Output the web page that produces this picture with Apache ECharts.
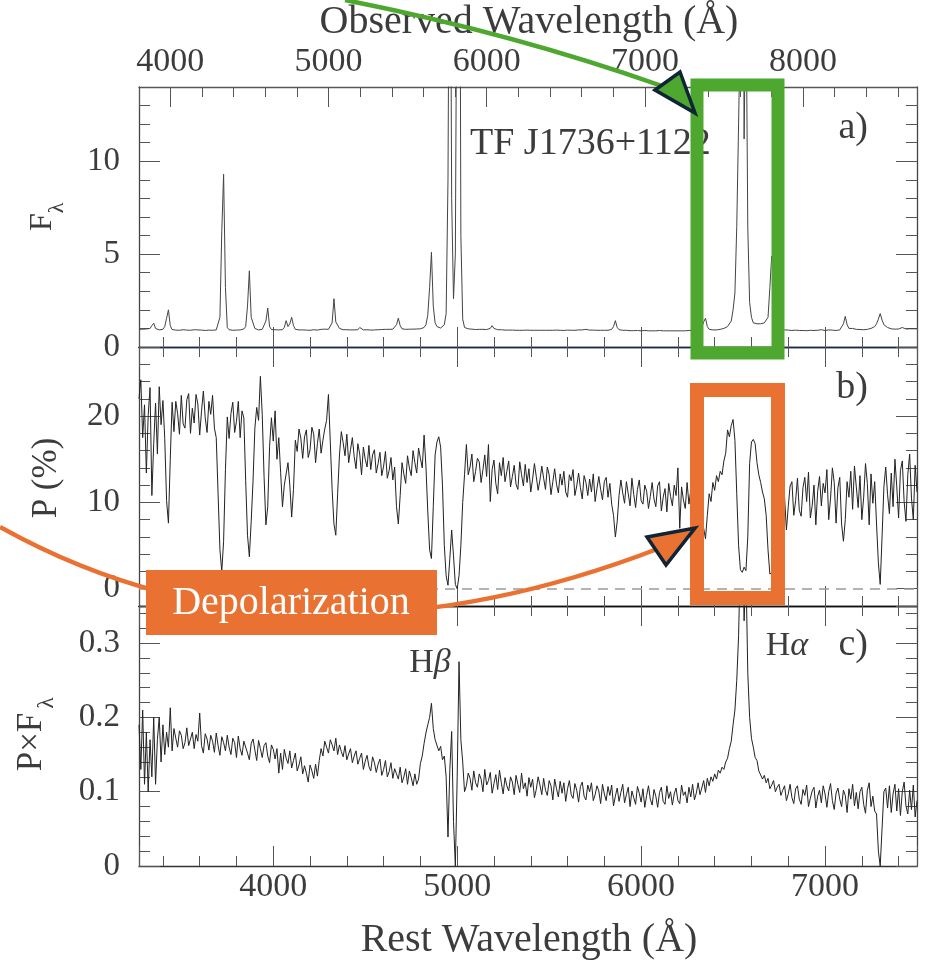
<!DOCTYPE html>
<html>
<head>
<meta charset="utf-8">
<script src="https://cdn.jsdelivr.net/npm/echarts@6/dist/echarts.min.js"></script>
<style>
  html, body { margin: 0; padding: 0; background: #ffffff; }
  #chart { width: 929px; height: 960px; }
</style>
</head>
<body>
<div id="chart"></div>
<script>
// Rest-frame wavelength grid (Angstrom): first sample and spacing
const WAVE_START = 3270;
const WAVE_STEP = 10;
const REST_MIN = 3270;
const REST_MAX = 7500;
const REDSHIFT = 0.1627;

// a) total flux density F_lambda, one value per grid sample (rows of 100 A)
const fluxValues = [
  0.95, 0.93, 0.96, 0.94, 0.97, 0.96, 1.0, 1.15, 1.28, 1.0,
  0.94, 0.92, 0.93, 0.95, 1.1, 1.55, 2.0, 1.15, 0.94, 0.92,
  0.91, 0.92, 0.9, 0.91, 0.93, 0.9, 0.91, 0.92, 0.9, 0.91,
  0.93, 0.95, 0.92, 0.9, 0.91, 0.9, 0.89, 0.9, 0.91, 0.9,
  0.9, 0.91, 0.92, 0.95, 1.6, 6.2, 9.3, 3.2, 1.05, 0.93,
  0.91, 0.9, 0.92, 0.91, 0.93, 0.92, 0.94, 0.97, 1.1, 2.2,
  4.1, 1.6, 1.5, 1.0, 0.93, 0.92, 0.93, 0.95, 1.05, 1.4,
  2.1, 1.1, 0.94, 0.92, 0.93, 0.91, 0.92, 0.95, 0.93, 1.05,
  1.42, 1.1, 1.25, 1.6, 1.15, 0.95, 0.93, 0.92, 0.93, 0.92,
  0.93, 0.91, 0.92, 0.9, 0.91, 0.93, 0.92, 0.91, 0.93, 0.95,
  0.94, 0.96, 0.93, 0.95, 0.98, 1.3, 2.6, 1.35, 1.3, 1.0,
  0.95, 0.93, 0.92, 0.93, 0.91, 0.92, 0.93, 0.92, 0.94, 0.93,
  1.05, 0.95, 0.92, 0.91, 0.93, 0.92, 0.91, 0.93, 0.92, 0.94,
  0.93, 0.92, 0.94, 0.93, 0.95, 0.96, 0.95, 0.97, 0.96, 0.98,
  1.2, 1.55, 1.15, 0.98, 0.96, 0.95, 0.97, 0.96, 0.95, 0.96,
  0.95, 0.97, 0.96, 0.98, 1.0, 1.05, 1.2, 1.7, 3.2, 5.1,
  2.2, 1.3, 1.1, 1.0, 1.02, 1.05, 1.2, 1.8, 9.0, 30,
  8.0, 2.6, 5.0, 25, 40, 6.0, 1.5, 1.05, 1.0, 0.98,
  0.97, 0.96, 0.95, 0.94, 0.96, 0.95, 0.94, 0.95, 0.93, 0.94,
  0.95, 1.0, 1.15, 1.0, 0.94, 0.93, 0.92, 0.93, 0.92, 0.91,
  0.92, 0.91, 0.9, 0.91, 0.92, 0.9, 0.91, 0.9, 0.89, 0.9,
  0.9, 0.91, 0.89, 0.9, 0.91, 0.9, 0.89, 0.9, 0.91, 0.9,
  0.89, 0.9, 0.91, 0.9, 0.89, 0.9, 0.9, 0.91, 0.89, 0.9,
  0.9, 0.89, 0.9, 0.91, 0.9, 0.9, 0.89, 0.9, 0.91, 0.92,
  0.91, 0.92, 0.93, 0.95, 0.93, 0.91, 0.9, 0.91, 0.9, 0.9,
  0.91, 0.9, 0.89, 0.9, 0.91, 0.9, 0.91, 0.95, 1.1, 1.42,
  1.05, 0.93, 0.91, 0.9, 0.89, 0.9, 0.89, 0.88, 0.89, 0.88,
  0.88, 0.89, 0.88, 0.87, 0.88, 0.89, 0.88, 0.87, 0.88, 0.87,
  0.88, 0.87, 0.88, 0.89, 0.88, 0.87, 0.88, 0.87, 0.86, 0.87,
  0.88, 0.87, 0.86, 0.87, 0.88, 0.87, 0.86, 0.87, 0.88, 0.89,
  0.88, 0.89, 0.95, 1.3, 1.0, 0.93, 1.05, 1.35, 1.55, 1.1,
  0.95, 0.93, 0.92, 0.93, 0.92, 0.93, 0.95, 0.97, 1.0, 1.05,
  1.1, 1.2, 1.4, 2.0, 2.9, 6.5, 12, 18, 35, 11.2,
  20, 6.4, 2.4, 1.6, 1.3, 1.2, 1.25, 1.2, 1.25, 1.3,
  1.3, 1.35, 1.6, 3.2, 4.9, 4.6, 4.8, 2.5, 1.1, 0.95,
  0.93, 0.92, 0.9, 0.91, 0.9, 0.89, 0.9, 0.91, 0.9, 0.89,
  0.9, 0.89, 0.9, 0.88, 0.89, 0.9, 0.88, 0.89, 0.88, 0.9,
  0.89, 0.93, 0.88, 0.89, 0.9, 0.92, 1.0, 0.91, 0.9, 0.89,
  0.9, 0.92, 0.98, 1.25, 1.65, 1.2, 1.0, 0.97, 1.0, 0.96,
  0.95, 0.93, 0.94, 0.92, 0.93, 0.94, 0.95, 0.97, 1.0, 1.05,
  1.1, 1.25, 1.5, 1.8, 1.45, 1.2, 1.1, 1.05, 1.0, 0.98,
  0.97, 0.96, 0.98, 0.97, 1.0, 1.05, 0.98, 0.97, 0.96, 0.98,
  0.97, 0.98, 0.97, 0.98
];

// b) polarization P (%)
const polValues = [
  22.0, 24.2, 17.5, 21.3, 13.4, 20.1, 23.3, 10.8, 16.8, 21.5,
  15.6, 23.4, 19.0, 21.8, 17.4, 10.2, 7.6, 15.0, 21.6, 18.2,
  21.7, 20.3, 17.9, 22.4, 19.1, 18.6, 21.9, 22.6, 18.0, 20.9,
  19.2, 22.5, 21.4, 17.8, 20.6, 22.9, 19.8, 18.1, 21.7, 20.2,
  22.4, 18.6, 17.5, 11.0, 4.5, 2.0, 5.5, 13.8, 19.9, 17.4,
  20.3, 21.6, 18.1, 19.4, 21.7, 17.5, 20.6, 19.8, 12.5, 6.2,
  3.7, 7.8, 12.5, 18.6, 21.0, 19.5, 24.6, 20.2, 13.0, 7.4,
  9.5, 16.5, 19.8, 17.1, 20.6, 15.0, 17.5, 13.5, 9.5, 12.0,
  11.8, 14.6, 12.0, 8.3, 11.5, 17.2, 15.9, 18.5, 17.4, 15.1,
  17.6, 18.4, 15.2, 16.1, 18.7, 17.9, 14.6, 16.8, 18.5, 15.7,
  17.2, 18.5, 19.5, 22.5, 17.0, 11.5, 7.5, 6.2, 11.0, 15.5,
  18.2, 16.9, 15.4, 17.9, 14.6, 16.1, 17.5, 15.3, 13.9, 16.8,
  15.6, 13.2, 16.4, 15.0, 14.1, 16.6, 13.8, 15.5, 16.1, 13.4,
  14.5, 15.8, 13.1, 14.2, 15.9, 12.8, 13.7, 15.2, 12.6, 14.1,
  9.5, 7.5, 10.8, 14.6, 13.3, 12.2, 15.4, 14.0, 13.1, 16.0,
  14.6, 13.4, 16.3, 15.1, 14.0, 17.8, 14.2, 9.0, 4.5, 3.5,
  9.5, 15.5, 17.0, 17.6, 16.4, 12.0, 5.0, 1.5, 0.4, 3.5,
  6.8, 3.8, 0.5, 0.0, 1.5, 5.0, 10.0, 13.2, 16.7, 13.2,
  14.1, 15.6, 12.4, 13.6, 15.1, 14.7, 12.3, 13.8, 15.5, 13.0,
  16.7, 10.1, 13.8, 14.9, 12.2, 11.0, 14.6, 13.1, 15.2, 12.4,
  13.6, 14.8, 11.8, 13.0, 14.3, 12.1, 11.5, 14.7, 13.2, 11.9,
  14.4, 12.3, 13.9, 11.2, 12.7, 14.5, 13.0, 11.4, 12.6, 14.2,
  12.8, 11.5, 14.1, 13.2, 10.9, 12.4, 13.9, 12.1, 11.1, 13.3,
  12.0, 13.6, 11.2, 10.6, 13.2, 12.5, 13.8, 10.8, 11.9, 13.4,
  11.7, 10.4, 13.1, 12.3, 10.8, 12.7, 11.2, 13.3, 10.1, 11.6,
  13.0, 11.5, 10.3, 12.4, 12.9, 10.6, 12.2, 9.8, 8.5, 6.0,
  7.8, 10.8, 12.6, 11.1, 9.9, 12.4, 11.0, 9.6, 12.8, 10.9,
  9.4, 11.5, 12.6, 10.2, 9.8, 12.0, 11.3, 9.3, 10.7, 12.3,
  10.4, 9.5, 11.9, 12.4, 9.0, 10.6, 11.6, 8.9, 12.2, 10.7,
  9.6, 12.0, 10.8, 14.0, 7.0, 11.8, 10.3, 9.3, 12.3, 9.8,
  11.4, 9.1, 12.0, 10.5, 8.8, 10.2, 8.5, 7.0, 5.8, 8.5,
  11.0, 10.1, 12.3, 11.4, 13.1, 12.4, 13.6, 13.2, 14.8, 15.7,
  18.4, 17.6, 18.9, 19.6, 17.2, 11.0, 5.0, 2.2, 1.9, 2.5,
  2.1, 6.0, 14.5, 17.0, 17.3, 16.8, 14.6, 13.2, 12.3, 11.2,
  10.4, 8.5, 4.5, 1.7, 1.5, 2.0, 2.6, 5.0, 8.5, 10.2,
  12.3, 10.6, 6.8, 9.5, 11.9, 12.4, 8.5, 10.2, 12.8, 9.1,
  8.4, 11.7, 12.9, 10.1, 13.5, 8.2, 9.6, 12.0, 7.4, 11.3,
  13.0, 9.6, 12.2, 11.1, 13.8, 8.0, 10.5, 14.0, 12.3, 7.6,
  11.7, 12.9, 7.5, 5.5, 8.0, 12.4, 10.6, 13.6, 9.2, 14.2,
  11.8, 9.4, 13.1, 8.0, 10.6, 14.5, 12.2, 7.4, 13.3, 9.9,
  12.4, 7.5, 3.0, 0.5, 6.0, 11.8, 14.1, 10.9, 8.7, 13.4,
  9.5, 15.0, 11.8, 8.2, 13.7, 14.8, 10.1, 7.8, 13.2, 15.6,
  10.5, 8.0, 14.3, 11.2
];

// c) polarized flux P x F_lambda
const polFluxValues = [
  0.19, 0.13, 0.21, 0.11, 0.18, 0.1, 0.17, 0.12, 0.2, 0.11,
  0.17, 0.2, 0.14, 0.19, 0.15, 0.18, 0.16, 0.213, 0.155, 0.185,
  0.172, 0.16, 0.182, 0.176, 0.158, 0.166, 0.186, 0.162, 0.171, 0.18,
  0.158, 0.177, 0.168, 0.206, 0.162, 0.152, 0.178, 0.171, 0.156, 0.176,
  0.168, 0.153, 0.179, 0.162, 0.149, 0.174, 0.166, 0.155, 0.176, 0.16,
  0.15, 0.172, 0.166, 0.146, 0.175, 0.158, 0.149, 0.168, 0.17, 0.152,
  0.143, 0.165, 0.171, 0.156, 0.142, 0.169, 0.158, 0.146, 0.162, 0.166,
  0.148, 0.139, 0.163, 0.157, 0.144, 0.158, 0.125, 0.152, 0.13, 0.157,
  0.145, 0.138, 0.155, 0.132, 0.142, 0.152, 0.128, 0.136, 0.147, 0.124,
  0.135, 0.125, 0.113, 0.136, 0.128, 0.118, 0.137, 0.121, 0.142, 0.158,
  0.148, 0.168, 0.16, 0.152, 0.17, 0.163, 0.155, 0.172, 0.15, 0.163,
  0.154, 0.147, 0.162, 0.143, 0.151, 0.158, 0.139, 0.148, 0.155, 0.137,
  0.145, 0.152, 0.13, 0.141, 0.149, 0.134, 0.128, 0.147, 0.139, 0.126,
  0.137, 0.144, 0.122, 0.13, 0.142, 0.12, 0.127, 0.139, 0.118, 0.131,
  0.124, 0.117, 0.133, 0.112, 0.12, 0.131, 0.11, 0.128, 0.119, 0.108,
  0.124, 0.11, 0.117, 0.138, 0.148, 0.165, 0.179, 0.19, 0.2, 0.219,
  0.185, 0.17, 0.172, 0.155, 0.161, 0.143, 0.148, 0.12, 0.039, 0.13,
  0.181, 0.06, 0.0, 0.12, 0.275, 0.17, 0.14, 0.1, 0.108, 0.125,
  0.118, 0.102, 0.128, 0.112, 0.106, 0.124, 0.117, 0.1, 0.13, 0.109,
  0.115, 0.126, 0.098, 0.111, 0.123, 0.103, 0.129, 0.112, 0.097, 0.119,
  0.108, 0.101, 0.12, 0.113, 0.096, 0.122, 0.11, 0.099, 0.125, 0.104,
  0.112, 0.094, 0.119, 0.106, 0.117, 0.092, 0.103, 0.12, 0.109, 0.096,
  0.118, 0.102, 0.095, 0.115, 0.108, 0.089, 0.117, 0.104, 0.093, 0.114,
  0.098, 0.112, 0.087, 0.104, 0.115, 0.096, 0.091, 0.111, 0.102, 0.086,
  0.107, 0.113, 0.094, 0.089, 0.109, 0.1, 0.112, 0.088, 0.096, 0.108,
  0.101, 0.084, 0.11, 0.097, 0.088, 0.107, 0.095, 0.109, 0.081, 0.094,
  0.105, 0.087, 0.099, 0.11, 0.085, 0.096, 0.106, 0.08, 0.101, 0.092,
  0.083, 0.107, 0.098, 0.086, 0.104, 0.079, 0.095, 0.108, 0.09, 0.082,
  0.103, 0.094, 0.079, 0.099, 0.106, 0.087, 0.083, 0.108, 0.091, 0.1,
  0.082, 0.097, 0.105, 0.088, 0.084, 0.109, 0.095, 0.1, 0.085, 0.106,
  0.093, 0.11, 0.089, 0.098, 0.112, 0.096, 0.105, 0.115, 0.099, 0.118,
  0.108, 0.12, 0.114, 0.124, 0.117, 0.129, 0.125, 0.133, 0.13, 0.14,
  0.145, 0.158, 0.168, 0.19, 0.21, 0.25, 0.31, 0.42, 0.45, 0.33,
  0.4, 0.26, 0.2, 0.172, 0.16, 0.146, 0.142, 0.128, 0.13, 0.117,
  0.122, 0.112, 0.118, 0.104, 0.109, 0.115, 0.1, 0.106, 0.11, 0.095,
  0.102, 0.108, 0.088, 0.097, 0.11, 0.092, 0.084, 0.104, 0.108, 0.09,
  0.083, 0.103, 0.095, 0.109, 0.08, 0.091, 0.101, 0.106, 0.078, 0.094,
  0.102, 0.085, 0.108, 0.097, 0.079, 0.1, 0.111, 0.088, 0.076, 0.098,
  0.105, 0.09, 0.08, 0.102, 0.095, 0.072, 0.104, 0.09, 0.11, 0.081,
  0.099, 0.077, 0.1, 0.106, 0.083, 0.071, 0.102, 0.112, 0.08, 0.094,
  0.074, 0.07, 0.02, 0.0, 0.05, 0.1, 0.105, 0.078, 0.108, 0.072,
  0.097, 0.11, 0.074, 0.104, 0.068, 0.1, 0.113, 0.081, 0.07, 0.102,
  0.076, 0.109, 0.066, 0.088
];

// Axis ranges of the three panels
const fluxRange = [0, 14];
const polRange = [-2, 28];
const polFluxRange = [0, 0.35];

const FONT = '"Liberation Serif", "Times New Roman", serif';
const TEXT = '#3c3c3c';
const TICK = '#555555';
const ORANGE = '#e97132';
const GREEN = '#4ea72e';
const NAVY = '#0f2435';

function pairs(values) {
  return values.map((v, i) => [WAVE_START + i * WAVE_STEP, v]);
}

function everyThousand(v) { return v % 1000 === 0 ? String(v) : ''; }

function xAxisFor(grid, position, showLabels, lineColor, range) {
  return {
    type: 'value', gridIndex: grid, position: position,
    min: range[0], max: range[1], splitNumber: 5,
    axisLine: { show: true, onZero: false, lineStyle: { color: lineColor, width: 1.4 } },
    axisTick: { show: true, inside: true, length: 20, lineStyle: { color: TICK, width: 1 } },
    minorTick: { show: true, splitNumber: 5, length: 10, lineStyle: { color: TICK, width: 1 } },
    splitLine: { show: false }, minorSplitLine: { show: false },
    axisLabel: {
      show: showLabels, color: TEXT, fontFamily: FONT, fontSize: 34,
      margin: position === 'top' ? 8 : 4, formatter: everyThousand
    }
  };
}

function yAxisFor(grid, position, showLabels, range, opts) {
  return Object.assign({
    type: 'value', gridIndex: grid, position: position,
    min: range[0], max: range[1],
    axisLine: { show: true, onZero: false, lineStyle: { color: '#444', width: 1.3 } },
    axisTick: { show: true, inside: true, length: 21, lineStyle: { color: TICK, width: 1 } },
    minorTick: { show: true, splitNumber: 5, length: 11, lineStyle: { color: TICK, width: 1 } },
    splitLine: { show: false }, minorSplitLine: { show: false },
    axisLabel: { show: showLabels, color: TEXT, fontFamily: FONT, fontSize: 33, margin: 19 }
  }, opts);
}

const restRange = [REST_MIN, REST_MAX];
const obsRange = [REST_MIN * (1 + REDSHIFT), REST_MAX * (1 + REDSHIFT)];

const fluxLabels = { formatter: v => (v % 5 === 0 ? String(v) : '') };
const polLabels = { formatter: v => (v % 10 === 0 ? String(v) : '') };
const polFluxLabels = {
  formatter: v => {
    const r = Math.round(v * 10);
    if (Math.abs(v * 10 - r) > 1e-6) return '';
    return r === 0 ? '0' : (r / 10).toFixed(1);
  }
};

function withLabels(axis, extra) {
  axis.axisLabel = Object.assign(axis.axisLabel, extra);
  return axis;
}

const chart = echarts.init(document.getElementById('chart'), null, { renderer: 'canvas' });

const textStyle = (size, extra) => Object.assign({
  font: size + 'px ' + FONT, fill: TEXT
}, extra);

const centered = { align: 'center', textAlign: 'center', verticalAlign: 'middle', textVerticalAlign: 'middle' };

const option = {
  animation: false,
  backgroundColor: '#ffffff',
  grid: [
    { left: 139, right: 12, top: 87, height: 260 },
    { left: 139, right: 12, top: 347, height: 259 },
    { left: 139, right: 12, top: 606, height: 260 }
  ],
  xAxis: [
    xAxisFor(0, 'bottom', false, '#1d2d40', restRange),
    xAxisFor(0, 'top', true, '#555', obsRange),
    xAxisFor(1, 'bottom', false, '#111', restRange),
    xAxisFor(1, 'top', false, '#1d2d40', restRange),
    xAxisFor(2, 'bottom', true, '#333', restRange),
    xAxisFor(2, 'top', false, '#111', restRange)
  ],
  yAxis: [
    withLabels(yAxisFor(0, 'left', true, fluxRange, { interval: 5 }), fluxLabels),
    yAxisFor(0, 'right', false, fluxRange, { interval: 5 }),
    withLabels(yAxisFor(1, 'left', true, polRange, { splitNumber: 3 }), polLabels),
    yAxisFor(1, 'right', false, polRange, { splitNumber: 3 }),
    withLabels(yAxisFor(2, 'left', true, polFluxRange, { interval: 0.1 }), polFluxLabels),
    yAxisFor(2, 'right', false, polFluxRange, { interval: 0.1 })
  ],
  series: [
    {
      type: 'line', name: 'F', xAxisIndex: 0, yAxisIndex: 0, data: pairs(fluxValues),
      showSymbol: false, symbol: 'none', silent: true, clip: true,
      lineStyle: { color: '#444', width: 1 }
    },
    {
      type: 'line', name: 'P', xAxisIndex: 2, yAxisIndex: 2, data: pairs(polValues),
      showSymbol: false, symbol: 'none', silent: true, clip: true,
      lineStyle: { color: '#222', width: 1 },
      markLine: {
        silent: true, symbol: 'none', label: { show: false },
        lineStyle: { color: '#9a9a9a', type: [10, 7], width: 1.5 },
        data: [{ yAxis: 0 }]
      }
    },
    {
      type: 'line', name: 'PF', xAxisIndex: 4, yAxisIndex: 4, data: pairs(polFluxValues),
      showSymbol: false, symbol: 'none', silent: true, clip: true,
      lineStyle: { color: '#222', width: 1 }
    }
  ],
  graphic: [
    // axis titles
    { type: 'text', x: 529, y: 22, z: 50, style: textStyle(40, Object.assign({ text: 'Observed Wavelength (Å)' }, centered)) },
    { type: 'text', x: 529, y: 940, z: 50, style: textStyle(40, Object.assign({ text: 'Rest Wavelength (Å)' }, centered)) },
    {
      type: 'group', x: 47, y: 217, rotation: Math.PI / 2, z: 50, children: [
        { type: 'text', x: -5, y: -4, style: textStyle(32, Object.assign({ text: 'F' }, centered)) },
        { type: 'text', x: 9, y: 10, style: textStyle(22, Object.assign({ text: 'λ' }, centered)) }
      ]
    },
    {
      type: 'group', x: 47, y: 478, rotation: Math.PI / 2, z: 50, children: [
        { type: 'text', x: 0, y: 0, style: textStyle(35, Object.assign({ text: 'P (%)' }, centered)) }
      ]
    },
    {
      type: 'group', x: 32, y: 740, rotation: Math.PI / 2, z: 50, children: [
        { type: 'text', x: -2, y: 0, style: textStyle(35, Object.assign({ text: 'P×F' }, centered)) },
        { type: 'text', x: 37, y: 15, style: textStyle(23, Object.assign({ text: 'λ' }, centered)) }
      ]
    },
    // panel labels
    { type: 'text', x: 470, y: 144, z: 50, style: textStyle(38, { text: 'TF J1736+1122', align: 'left', textAlign: 'left', verticalAlign: 'middle', textVerticalAlign: 'middle' }) },
    { type: 'text', x: 868, y: 128, z: 50, style: textStyle(38, { text: 'a)', align: 'right', textAlign: 'right', verticalAlign: 'middle', textVerticalAlign: 'middle' }) },
    { type: 'text', x: 868, y: 388, z: 50, style: textStyle(38, { text: 'b)', align: 'right', textAlign: 'right', verticalAlign: 'middle', textVerticalAlign: 'middle' }) },
    { type: 'text', x: 868, y: 645, z: 50, style: textStyle(38, { text: 'c)', align: 'right', textAlign: 'right', verticalAlign: 'middle', textVerticalAlign: 'middle' }) },
    {
      type: 'text', x: 430, y: 663, z: 50, style: Object.assign({
        text: '{h|H}{g|β}', fill: TEXT,
        rich: { h: { fontFamily: FONT, fontSize: 34, fill: TEXT, color: TEXT }, g: { fontFamily: FONT, fontSize: 34, fontStyle: 'italic', fill: TEXT, color: TEXT } }
      }, centered)
    },
    {
      type: 'text', x: 787, y: 646, z: 50, style: Object.assign({
        text: '{h|H}{g|α}', fill: TEXT,
        rich: { h: { fontFamily: FONT, fontSize: 34, fill: TEXT, color: TEXT }, g: { fontFamily: FONT, fontSize: 34, fontStyle: 'italic', fill: TEXT, color: TEXT } }
      }, centered)
    },
    // depolarization callout
    { type: 'bezierCurve', z: 100, shape: { x1: 0, y1: 527, cpx1: 292, cpy1: 690, x2: 660, y2: 548 }, style: { stroke: ORANGE, lineWidth: 4.5, fill: null } },
    { type: 'rect', z: 101, shape: { x: 146, y: 570, width: 291, height: 65 }, style: { fill: ORANGE } },
    { type: 'text', x: 291, y: 603, z: 102, style: Object.assign({ text: 'Depolarization', font: '40px ' + FONT, fill: '#ffffff' }, centered) },
    { type: 'rect', z: 100, shape: { x: 697, y: 390, width: 81, height: 208 }, style: { stroke: ORANGE, lineWidth: 14, fill: null } },
    { type: 'polygon', z: 103, shape: { points: [[647, 537], [695, 528], [666, 565]] }, style: { fill: ORANGE, stroke: NAVY, lineWidth: 3.5, lineJoin: 'miter' } },
    // broad-line callout
    { type: 'bezierCurve', z: 100, shape: { x1: 345, y1: 0, cpx1: 512, cpy1: 33, x2: 662, y2: 86 }, style: { stroke: GREEN, lineWidth: 4.5, fill: null } },
    { type: 'rect', z: 100, shape: { x: 697, y: 85, width: 81, height: 268 }, style: { stroke: GREEN, lineWidth: 13, fill: null } },
    { type: 'polygon', z: 103, shape: { points: [[655, 90], [680, 72], [695, 113]] }, style: { fill: GREEN, stroke: NAVY, lineWidth: 3.5, lineJoin: 'miter' } }
  ]
};

chart.setOption(option);
</script>
</body>
</html>
